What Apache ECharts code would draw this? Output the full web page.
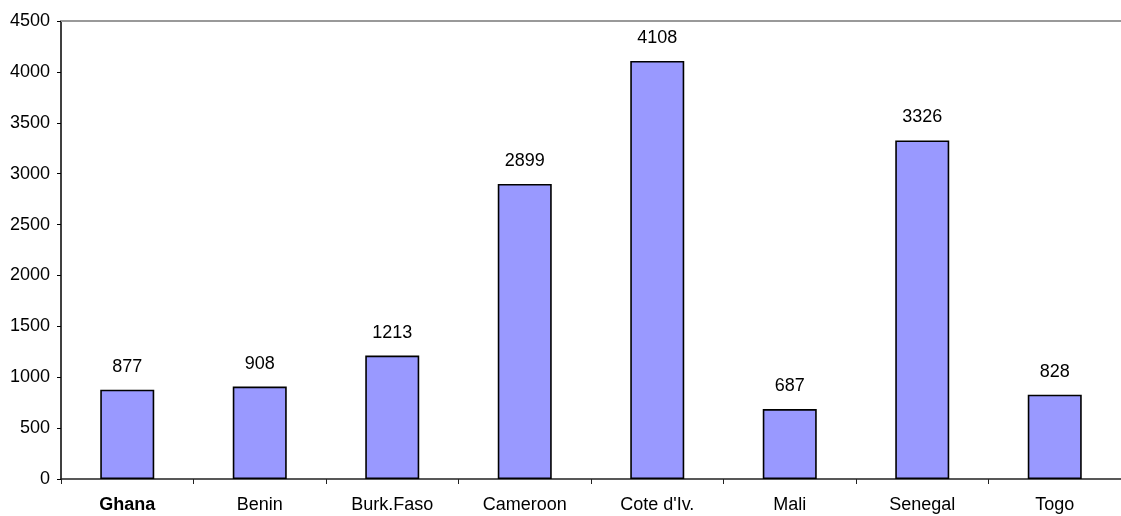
<!DOCTYPE html>
<html>
<head>
<meta charset="utf-8">
<script src="https://cdn.jsdelivr.net/npm/echarts@6/dist/echarts.min.js"></script>
<style>
html,body{margin:0;padding:0;background:#fff;}
#c{width:1121px;height:516px;}
</style>
</head>
<body>
<div id="c"></div>
<script>
const categories = ['Ghana', 'Benin', 'Burk.Faso', 'Cameroon', "Cote d'Iv.", 'Mali', 'Senegal', 'Togo'];
const values = [877, 908, 1213, 2899, 4108, 687, 3326, 828];
const boldCategory = 'Ghana';

const font = 'Liberation Sans, Arial, sans-serif';
const chart = echarts.init(document.getElementById('c'), null, {renderer: 'canvas'});
chart.setOption({
  animation: false,
  backgroundColor: '#fff',
  grid: {left: 61, right: -9, top: 21, bottom: 37, containLabel: false},
  xAxis: [{
    type: 'category',
    data: categories.map(c => c === boldCategory ? {value: c, textStyle: {fontWeight: 'bold'}} : c),
    axisLine: {lineStyle: {color: '#222', width: 1.5}},
    axisTick: {show: true, length: 5, lineStyle: {color: '#222'}},
    axisLabel: {color: '#000', fontFamily: font, fontSize: 18, margin: 17, interval: 0}
  }, {
    type: 'category',
    position: 'top',
    data: categories,
    axisLine: {show: true, lineStyle: {color: '#999', width: 2}},
    axisTick: {show: false},
    axisLabel: {show: false}
  }],
  yAxis: {
    type: 'value',
    min: 0, max: 4500, interval: 500,
    axisLine: {show: true, lineStyle: {color: '#000', width: 1.5}},
    axisTick: {show: true, length: 4, lineStyle: {color: '#000'}},
    splitLine: {show: false},
    axisLabel: {color: '#000', fontFamily: font, fontSize: 18, margin: 11, formatter: v => String(v)}
  },
  series: [{
    type: 'bar',
    data: values,
    barWidth: 54,
    itemStyle: {color: '#9999FF', borderColor: '#000', borderWidth: 1.6},
    label: {show: true, position: 'top', distance: 14, color: '#000', fontFamily: font, fontSize: 18}
  }]
});
</script>
</body>
</html>
